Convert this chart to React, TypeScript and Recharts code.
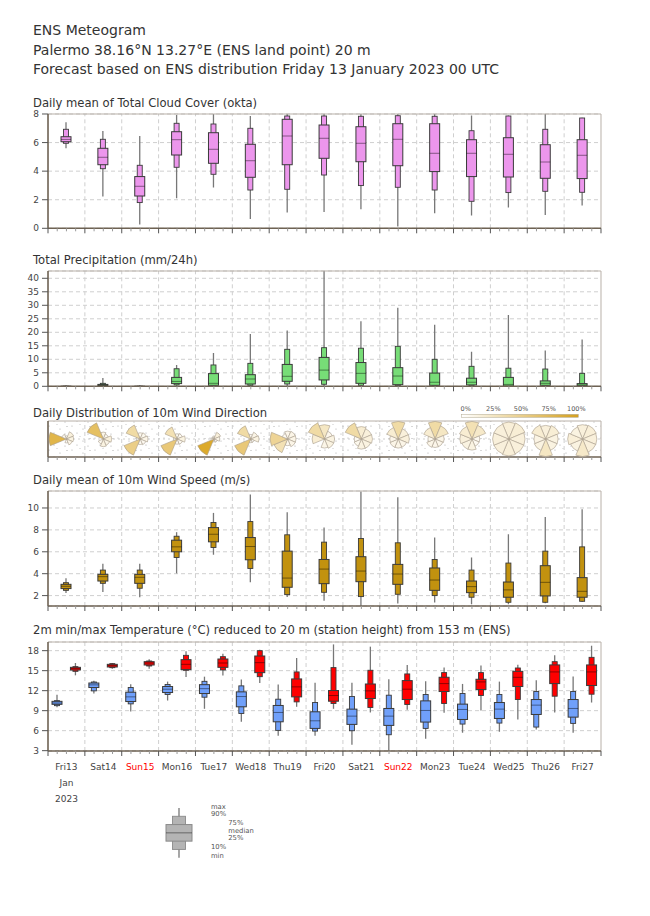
import React from 'react';
import { ComposedChart, Bar, Scatter, XAxis, YAxis, CartesianGrid, ReferenceLine, ReferenceArea } from 'recharts';

// ---------- data ----------
const DAYS = ['Fri13', 'Sat14', 'Sun15', 'Mon16', 'Tue17', 'Wed18', 'Thu19', 'Fri20', 'Sat21', 'Sun22', 'Mon23', 'Tue24', 'Wed25', 'Thu26', 'Fri27'];
const SUNDAYS = ['Sun15', 'Sun22'];
const FIRST_DAY_SUBLABELS = ['Jan', '2023'];

// each row: [min, p10, p25, median, p75, p90, max]
const CLOUD = [
  [5.6, 5.95, 6.06, 6.22, 6.41, 6.93, 7.42],
  [2.22, 4.17, 4.45, 4.97, 5.6, 6.23, 6.81],
  [0.26, 1.8, 2.26, 2.94, 3.62, 4.41, 6.46],
  [2.1, 4.27, 5.13, 6.2, 6.76, 7.35, 7.93],
  [2.85, 3.78, 4.55, 5.53, 6.69, 7.3, 8.0],
  [0.65, 2.68, 3.57, 4.73, 5.88, 7.0, 7.86],
  [1.1, 2.73, 4.45, 6.46, 7.63, 7.86, 8.0],
  [1.14, 3.73, 4.9, 6.3, 7.23, 7.86, 8.0],
  [1.33, 2.99, 4.66, 5.95, 7.11, 7.84, 8.0],
  [0.12, 2.87, 4.38, 6.23, 7.32, 7.88, 8.0],
  [1.05, 2.68, 3.97, 5.25, 7.32, 7.84, 8.0],
  [0.89, 1.89, 3.62, 5.25, 6.2, 6.83, 7.9],
  [1.45, 2.5, 3.59, 5.18, 6.34, 7.86, 7.9],
  [0.93, 2.59, 3.5, 4.64, 5.85, 6.93, 8.0],
  [1.59, 2.52, 3.48, 5.11, 6.2, 7.72, 7.74],
];

const PRECIP = [
  [0, 0, 0, 0, 0.02, 0.05, 0.4],
  [0, 0.1, 0.2, 0.35, 0.7, 1.1, 3.1],
  [0, 0, 0, 0, 0.02, 0.05, 0.4],
  [0, 0.5, 1.0, 1.8, 3.3, 6.5, 7.9],
  [0, 0.2, 0.35, 1.1, 4.7, 7.9, 12.3],
  [0, 0.35, 0.85, 2.7, 4.3, 8.5, 19.4],
  [0.05, 0.85, 1.85, 3.7, 8.1, 13.7, 20.7],
  [0.1, 0.75, 2.35, 6.0, 10.7, 14.3, 42.7],
  [0, 0.35, 1.1, 4.8, 8.8, 14.1, 24.1],
  [0, 0.25, 0.6, 3.8, 6.9, 14.8, 29.1],
  [0, 0.2, 0.35, 1.5, 4.9, 10.0, 22.8],
  [0, 0.2, 0.5, 1.5, 3.0, 7.4, 12.8],
  [0, 0, 0.1, 0.7, 3.3, 6.7, 26.4],
  [0, 0.1, 0.35, 1.1, 2.0, 6.4, 13.3],
  [0, 0.05, 0.2, 0.5, 1.0, 4.8, 17.3],
];

const WIND_SPEED = [
  [2.24, 2.48, 2.64, 2.85, 3.03, 3.18, 3.58],
  [2.33, 3.12, 3.33, 3.73, 3.94, 4.33, 4.9],
  [1.85, 2.67, 3.12, 3.67, 3.94, 4.33, 4.9],
  [4.03, 5.48, 6.0, 6.45, 7.06, 7.42, 7.79],
  [5.73, 6.39, 6.91, 7.6, 8.21, 8.67, 9.55],
  [3.21, 4.48, 5.27, 6.48, 7.3, 8.76, 11.24],
  [1.88, 2.09, 2.76, 3.6, 6.06, 7.55, 9.6],
  [1.52, 2.3, 3.09, 4.42, 5.3, 6.88, 8.21],
  [1.06, 1.91, 3.27, 4.24, 5.55, 7.21, 11.5],
  [1.27, 2.12, 3.03, 3.97, 4.85, 6.82, 10.97],
  [1.36, 2.0, 2.48, 3.42, 4.52, 5.3, 7.3],
  [1.21, 1.85, 2.27, 2.82, 3.33, 4.33, 5.48],
  [1.21, 1.39, 1.85, 2.52, 3.24, 4.97, 7.6],
  [1.3, 1.39, 1.97, 3.21, 4.73, 6.06, 9.18],
  [1.42, 1.48, 1.85, 2.39, 3.64, 6.45, 9.88],
];

const TEMP_MIN = [
  [9.5, 9.75, 9.95, 10.15, 10.4, 10.5, 11.4],
  [11.57, 11.97, 12.47, 12.87, 13.15, 13.3, 13.5],
  [8.88, 10.02, 10.37, 11.07, 11.77, 12.47, 12.97],
  [10.52, 11.42, 11.72, 12.22, 12.62, 12.92, 13.36],
  [9.28, 11.02, 11.57, 12.3, 12.9, 13.4, 14.1],
  [7.33, 8.58, 9.58, 11.12, 11.82, 12.72, 13.66],
  [5.24, 6.04, 7.33, 8.73, 9.78, 10.72, 12.92],
  [5.24, 5.94, 6.34, 7.48, 8.83, 10.22, 13.2],
  [3.9, 5.99, 6.94, 8.18, 9.23, 11.12, 13.2],
  [3.0, 5.39, 6.79, 8.18, 9.33, 11.32, 13.71],
  [4.79, 6.34, 7.29, 9.03, 10.47, 11.42, 13.41],
  [5.69, 6.99, 7.68, 9.18, 9.98, 11.57, 13.01],
  [5.84, 7.14, 7.83, 9.23, 10.22, 11.42, 13.36],
  [6.19, 6.54, 8.43, 9.83, 10.67, 11.87, 13.56],
  [5.69, 7.09, 8.03, 9.33, 10.67, 11.87, 14.11],
];

const TEMP_MAX = [
  [14.3, 14.9, 15.1, 15.3, 15.5, 15.6, 16.15],
  [15.3, 15.45, 15.55, 15.75, 15.95, 16.05, 16.15],
  [15.3, 15.7, 15.85, 16.15, 16.35, 16.45, 16.7],
  [14.06, 15.06, 15.16, 15.95, 16.65, 17.3, 17.9],
  [14.26, 15.1, 15.5, 16.15, 16.75, 17.1, 17.55],
  [13.16, 14.1, 14.7, 16.2, 17.2, 18.0, 18.15],
  [9.58, 10.32, 11.07, 12.57, 13.76, 14.81, 16.9],
  [9.28, 10.07, 10.42, 11.27, 12.02, 15.46, 18.94],
  [8.73, 9.48, 10.82, 11.97, 13.0, 15.06, 18.6],
  [9.13, 9.93, 10.67, 12.22, 13.51, 14.51, 15.86],
  [8.68, 10.07, 11.87, 13.06, 14.01, 14.71, 15.46],
  [9.03, 11.27, 12.17, 13.31, 13.71, 14.71, 15.76],
  [7.68, 10.67, 12.62, 14.0, 14.9, 15.4, 15.9],
  [8.73, 11.17, 13.06, 14.81, 15.86, 16.35, 17.3],
  [10.22, 11.47, 12.77, 14.81, 15.86, 17.0, 18.74],
];

// wind direction frequencies per day: [N, NE, E, SE, S, SW, W, NW]
const WIND_DIR = [
  [0.02, 0.12, 0.1, 0.08, 0.03, 0.0, 0.6, 0.05],
  [0.08, 0.05, 0.12, 0.08, 0.1, 0.05, 0.0, 0.52],
  [0.05, 0.06, 0.08, 0.05, 0.04, 0.4, 0.02, 0.3],
  [0.04, 0.05, 0.1, 0.05, 0.04, 0.45, 0.02, 0.25],
  [0.02, 0.12, 0.08, 0.03, 0.02, 0.7, 0.02, 0.01],
  [0.03, 0.08, 0.1, 0.02, 0.02, 0.45, 0.0, 0.3],
  [0.07, 0.08, 0.08, 0.08, 0.05, 0.25, 0.35, 0.04],
  [0.2, 0.07, 0.1, 0.1, 0.08, 0.0, 0.15, 0.3],
  [0.15, 0.12, 0.12, 0.1, 0.1, 0.06, 0.05, 0.3],
  [0.3, 0.12, 0.12, 0.08, 0.08, 0.08, 0.07, 0.15],
  [0.3, 0.2, 0.08, 0.07, 0.07, 0.08, 0.05, 0.15],
  [0.25, 0.18, 0.05, 0.05, 0.1, 0.1, 0.12, 0.15],
  [0.13, 0.14, 0.12, 0.12, 0.13, 0.12, 0.12, 0.12],
  [0.12, 0.14, 0.1, 0.1, 0.2, 0.1, 0.09, 0.15],
  [0.12, 0.13, 0.12, 0.12, 0.18, 0.1, 0.13, 0.1],
];

const LEGEND_STATS = [0, 1, 2, 3, 4, 5, 6];
const LEGEND_LABELS = ['min', '10%', '25%', 'median', '75%', '90%', 'max'];
const COLORBAR_LABELS = ['0%', '25%', '50%', '75%', '100%'];

// ---------- styling ----------
const FONT = '"DejaVu Sans", sans-serif';
const TXT = '#333';
const AXIS = '#6e6253';
const FRAME = '#b8b0a8';
const GRID = '#cfcfcf';
const C_CLOUD = '#ec96ec';
const C_PRECIP = '#77dd77';
const C_WIND = '#c2920f';
const C_TMIN = '#70a0fa';
const C_TMAX = '#ff0000';
const GOLD = [218, 165, 32];

const X_TICKS = Array.from({ length: 61 }, (_, i) => i * 0.25);
const DAY_LINES = Array.from({ length: 14 }, (_, i) => i + 1);

const rowsFor = (stats: number[][], color: string, offset = 0.5) =>
  stats.map((s, i) => ({ x: i + offset, range: [s[0], s[6]], stats: s, color }));

const CLOUD_DATA = rowsFor(CLOUD, C_CLOUD);
const PRECIP_DATA = rowsFor(PRECIP, C_PRECIP);
const WIND_DATA = rowsFor(WIND_SPEED, C_WIND);
const TEMP_DATA = [...rowsFor(TEMP_MIN, C_TMIN, 0.25), ...rowsFor(TEMP_MAX, C_TMAX, 0.75)];
const ROSE_DATA = WIND_DIR.map((f, i) => ({ x: i + 0.5, y: 0, freq: f }));
const LEGEND_DATA = [{ x: 0, range: [LEGEND_STATS[0], LEGEND_STATS[6]], stats: LEGEND_STATS, color: '#b4b4b4' }];

// ---------- shapes ----------
const makeBox = (outerRatio: number, edge: string) => (props: any) => {
  const { x, y, width, height, payload } = props;
  if (x == null || y == null) return null;
  const s: number[] = payload.stats;
  const top = Math.min(y, y + height);
  const bot = Math.max(y, y + height);
  const lo = s[0];
  const hi = s[6];
  const toY = (v: number) => (hi === lo ? bot : bot - ((bot - top) * (v - lo)) / (hi - lo));
  const cx = x + width / 2;
  const ow = width * outerRatio;
  const iw = width;
  return (
    <g>
      <line x1={cx} x2={cx} y1={top} y2={bot} stroke="#777" strokeWidth={1.3} />
      <rect x={cx - ow / 2} y={toY(s[5])} width={ow} height={Math.max(0.01, toY(s[1]) - toY(s[5]))} fill={payload.color} stroke={edge} strokeWidth={0.9} />
      <rect x={cx - iw / 2} y={toY(s[4])} width={iw} height={Math.max(0.01, toY(s[2]) - toY(s[4]))} fill={payload.color} stroke={edge} strokeWidth={1} />
      <line x1={cx - iw / 2} x2={cx + iw / 2} y1={toY(s[3])} y2={toY(s[3])} stroke="rgba(0,0,0,0.55)" strokeWidth={0.8} />
    </g>
  );
};
const BoxShape = makeBox(0.5, '#3a3a3a');
const LegendBoxShape = makeBox(0.5, '#8a8a8a');

const goldMix = (v: number) => {
  const t = Math.min(1, v * 1.35);
  const c = GOLD.map((g) => Math.round(255 + (g - 255) * t));
  return `rgb(${c[0]},${c[1]},${c[2]})`;
};

const RoseShape = (props: any) => {
  const { cx, cy, payload } = props;
  if (cx == null || cy == null) return null;
  const f: number[] = payload.freq;
  const fmax = Math.max(...f);
  const R = 17.5;
  return (
    <g>
      {f.map((v, k) => {
        if (v <= 0) return null;
        const r = R * Math.sqrt(v / fmax);
        const a0 = ((k * 45 - 22.5) * Math.PI) / 180;
        const a1 = ((k * 45 + 22.5) * Math.PI) / 180;
        const x0 = cx + r * Math.sin(a0);
        const y0 = cy - r * Math.cos(a0);
        const x1 = cx + r * Math.sin(a1);
        const y1 = cy - r * Math.cos(a1);
        return (
          <path key={k} d={`M${cx},${cy} L${x0},${y0} A${r},${r} 0 0 1 ${x1},${y1} Z`} fill={goldMix(v)} stroke="#a89c8c" strokeWidth={0.6} />
        );
      })}
    </g>
  );
};

// ---------- axis ticks ----------
const renderXTick = (showLabels: boolean) => (props: any) => {
  const { x, y, payload } = props;
  const v: number = payload.value;
  const isMajor = Math.abs(v - Math.round(v)) < 1e-6;
  const isCenter = Math.abs(v - Math.floor(v) - 0.5) < 1e-6;
  const idx = Math.floor(v);
  const label = DAYS[idx];
  return (
    <g>
      <line x1={x} x2={x} y1={y} y2={y + (isMajor ? 5 : 3)} stroke={isMajor ? '#555' : '#999'} strokeWidth={1} />
      {showLabels && isCenter && label && (
        <text x={x} y={y + 19} textAnchor="middle" fontSize={9} fill={SUNDAYS.includes(label) ? '#ff0000' : '#444'}>
          {label}
        </text>
      )}
      {showLabels && isCenter && idx === 0 &&
        FIRST_DAY_SUBLABELS.map((t, j) => (
          <text key={t} x={x} y={y + 35 + j * 15.5} textAnchor="middle" fontSize={9} fill="#444">
            {t}
          </text>
        ))}
    </g>
  );
};

type PanelProps = {
  top: number;
  height: number;
  mTop: number;
  xH: number;
  data: any[];
  yDomain: [number, number];
  yTicks: number[];
  showLabels?: boolean;
};

function Frame(yMax: number) {
  return [
    <ReferenceLine key="ft" y={yMax} stroke={FRAME} strokeWidth={1} ifOverflow="visible" />,
    <ReferenceLine key="fr" x={15} stroke={FRAME} strokeWidth={1} ifOverflow="visible" />,
  ];
}

function BoxPanel(p: PanelProps) {
  return (
    <div style={{ position: 'absolute', left: 0, top: p.top }}>
      <ComposedChart width={650} height={p.height} data={p.data} margin={{ top: p.mTop, right: 49, bottom: 0, left: 8 }}>
        <CartesianGrid vertical={false} stroke={GRID} strokeDasharray="4 3" />
        {DAY_LINES.map((d) => (
          <ReferenceLine key={d} x={d} stroke={GRID} strokeDasharray="4 3" />
        ))}
        {Frame(p.yDomain[1])}
        <XAxis
          dataKey="x"
          type="number"
          domain={[0, 15]}
          ticks={X_TICKS}
          interval={0}
          tickSize={0}
          tickMargin={0}
          tick={renderXTick(!!p.showLabels)}
          height={p.xH}
          axisLine={{ stroke: AXIS, strokeWidth: 1.6 }}
          allowDataOverflow
        />
        <YAxis
          type="number"
          domain={p.yDomain}
          ticks={p.yTicks}
          width={40}
          interval={0}
          tickSize={6}
          tickMargin={3}
          tick={{ fontSize: 9, fill: '#444' }}
          tickLine={{ stroke: '#555' }}
          axisLine={{ stroke: AXIS, strokeWidth: 1.6 }}
          allowDataOverflow
        />
        <Bar dataKey="range" barSize={10} isAnimationActive={false} shape={BoxShape} />
      </ComposedChart>
    </div>
  );
}

function WindDirPanel() {
  return (
    <div style={{ position: 'absolute', left: 0, top: 412 }}>
      <ComposedChart width={650} height={57} data={ROSE_DATA} margin={{ top: 9, right: 49, bottom: 0, left: 8 }}>
        <ReferenceArea x1={0} x2={15} y1={-1} y2={1} fill="url(#windDots)" fillOpacity={1} stroke="none" />
        <ReferenceLine y={0} stroke={GRID} strokeDasharray="2 3" />
        {DAY_LINES.map((d) => (
          <ReferenceLine key={d} x={d} stroke={GRID} strokeDasharray="4 3" />
        ))}
        {Frame(1)}
        <XAxis
          dataKey="x"
          type="number"
          domain={[0, 15]}
          ticks={X_TICKS}
          interval={0}
          tickSize={0}
          tickMargin={0}
          tick={renderXTick(false)}
          height={12}
          axisLine={{ stroke: AXIS, strokeWidth: 1.6 }}
        />
        <YAxis type="number" domain={[-1, 1]} width={40} tick={false} tickLine={false} axisLine={{ stroke: AXIS, strokeWidth: 1.6 }} />
        <Scatter dataKey="y" isAnimationActive={false} shape={RoseShape} />
      </ComposedChart>
    </div>
  );
}

function LegendBox() {
  return (
    <div style={{ position: 'absolute', left: 158.7, top: 800 }}>
      <ComposedChart width={40} height={66} data={LEGEND_DATA} margin={{ top: 8, right: 0, bottom: 8.3, left: 0 }}>
        <XAxis dataKey="x" type="number" domain={[-1, 1]} hide />
        <YAxis type="number" domain={[0, 6]} hide />
        <Bar dataKey="range" barSize={26} isAnimationActive={false} shape={LegendBoxShape} />
      </ComposedChart>
    </div>
  );
}

const TITLES: [number, string][] = [
  [35, 'ENS Meteogram'],
  [54.5, 'Palermo 38.16°N 13.27°E (ENS land point) 20 m'],
  [74, 'Forecast based on ENS distribution Friday 13 January 2023 00 UTC'],
];
const PANEL_TITLES: [number, string][] = [
  [107, 'Daily mean of Total Cloud Cover (okta)'],
  [263.5, 'Total Precipitation (mm/24h)'],
  [416.5, 'Daily Distribution of 10m Wind Direction'],
  [483.5, 'Daily mean of 10m Wind Speed (m/s)'],
  [633.5, '2m min/max Temperature (°C) reduced to 20 m (station height) from 153 m (ENS)'],
];

function Overlay() {
  const cbX0 = 461.7;
  const cbX1 = 578.3;
  const legendLabelPos: [number, number][] = [
    [211, 858],
    [211, 849],
    [228.3, 840],
    [228.3, 832.5],
    [228.3, 825],
    [211, 816],
    [211, 809],
  ];
  return (
    <svg width={650} height={916} style={{ position: 'absolute', left: 0, top: 0, pointerEvents: 'none' }}>
      <defs>
        <pattern id="windDots" width="23" height="12" patternUnits="userSpaceOnUse">
          <circle cx="3" cy="2" r="0.6" fill="#a8a8a8" />
          <circle cx="14" cy="5" r="0.6" fill="#a8a8a8" />
          <circle cx="8" cy="9" r="0.6" fill="#a8a8a8" />
          <circle cx="19" cy="10" r="0.6" fill="#a8a8a8" />
          <circle cx="21" cy="2.5" r="0.6" fill="#a8a8a8" />
          <circle cx="11" cy="0.5" r="0.5" fill="#b8b8b8" />
        </pattern>
        <linearGradient id="cbGrad" x1="0" x2="1" y1="0" y2="0">
          <stop offset="0" stopColor="#ffffff" />
          <stop offset="1" stopColor="rgb(212,160,30)" />
        </linearGradient>
      </defs>
      {TITLES.map(([y, t]) => (
        <text key={t} x={33} y={y} fontSize={14} fill={TXT}>
          {t}
        </text>
      ))}
      {PANEL_TITLES.map(([y, t]) => (
        <text key={t} x={33} y={y} fontSize={11.6} fill={TXT}>
          {t}
        </text>
      ))}
      <rect x={cbX0} y={414.3} width={cbX1 - cbX0} height={3} fill="url(#cbGrad)" stroke="#b0a890" strokeWidth={0.5} />
      {COLORBAR_LABELS.map((t, i) => (
        <text key={t} x={cbX0 + 4 + (i * (cbX1 - cbX0 - 6)) / 4} y={411} fontSize={6.5} fill="#555" textAnchor="middle">
          {t}
        </text>
      ))}
      {LEGEND_LABELS.map((t, i) => (
        <text key={t} x={legendLabelPos[i][0]} y={legendLabelPos[i][1]} fontSize={6.8} fill="#555">
          {t}
        </text>
      ))}
    </svg>
  );
}

export default function App() {
  return (
    <div style={{ position: 'absolute', left: 0, top: 0, width: 650, height: 916, background: '#fff', fontFamily: FONT }}>
      <BoxPanel top={105} height={135.3} mTop={9} xH={12} data={CLOUD_DATA} yDomain={[0, 8]} yTicks={[0, 2, 4, 6, 8]} />
      <BoxPanel top={262} height={136.3} mTop={9} xH={12} data={PRECIP_DATA} yDomain={[0, 42.7]} yTicks={[0, 5, 10, 15, 20, 25, 30, 35, 40]} />
      <WindDirPanel />
      <BoxPanel top={482} height={136} mTop={9} xH={12} data={WIND_DATA} yDomain={[1.05, 11.55]} yTicks={[2, 4, 6, 8, 10]} />
      <BoxPanel top={632} height={174} mTop={10} xH={55} data={TEMP_DATA} yDomain={[2.95, 19.3]} yTicks={[3, 6, 9, 12, 15, 18]} showLabels />
      <LegendBox />
      <Overlay />
    </div>
  );
}
